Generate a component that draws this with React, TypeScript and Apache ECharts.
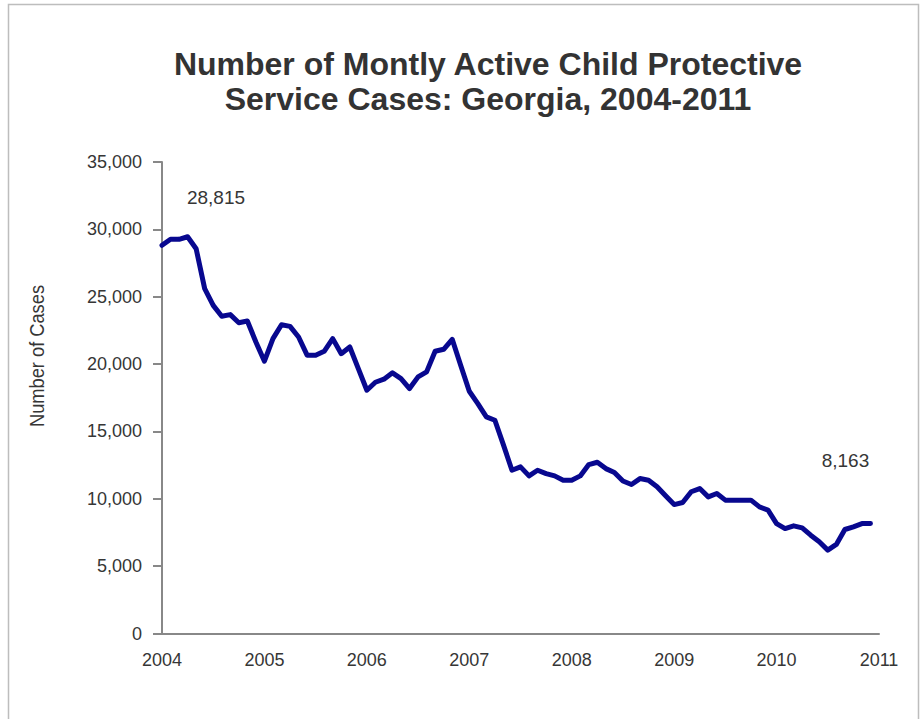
import React, { useEffect, useRef } from "react";
import * as echarts from "echarts";

const titleText = "Number of Montly Active Child Protective\nService Cases: Georgia, 2004-2011";
const yAxisTitle = "Number of Cases";
const yearLabels = ["2004", "2005", "2006", "2007", "2008", "2009", "2010", "2011"];
const monthlyCases = [
  28815, 29260, 29260, 29450, 28560, 25600, 24360, 23550, 23670, 23070, 23200, 21640,
  20210, 21890, 22920, 22800, 22010, 20660, 20660, 20950, 21890, 20770, 21270, 19660,
  18060, 18650, 18880, 19350, 18920, 18180, 19050, 19420, 20950, 21100, 21840, 19900,
  17980, 17060, 16080, 15830, 14000, 12120, 12370, 11700, 12120, 11870, 11700, 11380,
  11380, 11700, 12540, 12710, 12240, 11950, 11320, 11060, 11500, 11380, 10890, 10220,
  9570, 9720, 10520, 10760, 10140, 10390, 9900, 9900, 9900, 9900, 9400, 9160,
  8160, 7790, 7990, 7840, 7300, 6810, 6190, 6610, 7720, 7920, 8160, 8163,
];

const narrow = "'Liberation Sans Narrow', 'Arial Narrow', 'Liberation Sans', Arial, sans-serif";
const textColor = "#363636";
const axisGray = "#888888";
const lineColor = "#08088f";

export default function App() {
  const ref = useRef<HTMLDivElement>(null);
  useEffect(() => {
    if (!ref.current) return;
    const chart = echarts.init(ref.current, null, { renderer: "svg" });
    const categories: string[] = [];
    for (let y = 0; y < yearLabels.length; y++) {
      const months = y === yearLabels.length - 1 ? 1 : 12;
      for (let m = 1; m <= months; m++) {
        categories.push(yearLabels[y] + "-" + String(m).padStart(2, "0"));
      }
    }
    const last = monthlyCases.length - 1;
    const data = monthlyCases.map((v, i) => {
      if (i === 0) {
        return { value: v, label: { show: true, position: "inside", offset: [54, -48] } };
      }
      if (i === last) {
        return { value: v, label: { show: true, position: "inside", offset: [-25, -63] } };
      }
      return v;
    });
    chart.setOption({
      animation: false,
      backgroundColor: "#ffffff",
      grid: { left: 162, right: 43, top: 162, bottom: 85.5, containLabel: false },
      xAxis: {
        type: "category",
        data: categories,
        boundaryGap: false,
        axisLine: { show: true, lineStyle: { color: axisGray, width: 2 } },
        axisTick: { show: false },
        splitLine: { show: false },
        axisLabel: {
          interval: 11,
          margin: 17,
          color: textColor,
          fontFamily: narrow,
          fontSize: 18,
          formatter: (v: string) => v.slice(0, 4),
        },
      },
      yAxis: {
        type: "value",
        min: 0,
        max: 35000,
        interval: 5000,
        axisLine: { show: true, lineStyle: { color: axisGray, width: 2 } },
        axisTick: { show: true, inside: false, length: 9, lineStyle: { color: axisGray, width: 2 } },
        splitLine: { show: false },
        axisLabel: {
          margin: 20,
          color: textColor,
          fontFamily: narrow,
          fontSize: 18,
          formatter: (v: number) => v.toLocaleString("en-US"),
        },
      },
      series: [
        {
          type: "line",
          data,
          showSymbol: true,
          symbol: "circle",
          symbolSize: 1,
          itemStyle: { color: lineColor },
          lineStyle: { color: lineColor, width: 5, cap: "round", join: "round" },
          label: {
            show: false,
            color: textColor,
            fontFamily: narrow,
            fontSize: 19,
            formatter: (p: any) => Number(p.value).toLocaleString("en-US"),
          },
          emphasis: { disabled: true },
        },
      ],
      graphic: [
        {
          type: "rect",
          shape: { x: 8.5, y: 4.5, width: 910, height: 800 },
          style: { fill: "none", stroke: "#bdbdbd", lineWidth: 1.5 },
          silent: true,
        },
        {
          type: "text",
          x: 488,
          y: 81,
          style: {
            text: titleText,
            textAlign: "center",
            textVerticalAlign: "middle",
            fontFamily: "'Liberation Sans', Arial, sans-serif",
            fontWeight: "bold",
            fontSize: 32,
            lineHeight: 35,
            fill: "#333333",
          },
        },
        {
          type: "text",
          x: 37,
          y: 356,
          rotation: Math.PI / 2,
          scaleX: 0.87,
          style: {
            text: yAxisTitle,
            textAlign: "center",
            textVerticalAlign: "middle",
            fontFamily: narrow,
            fontSize: 21,
            fill: textColor,
          },
        },
      ],
    });
    return () => chart.dispose();
  }, []);
  return (
    <div
      ref={ref}
      style={{ position: "fixed", left: 0, top: 0, width: 922, height: 719 }}
    />
  );
}
